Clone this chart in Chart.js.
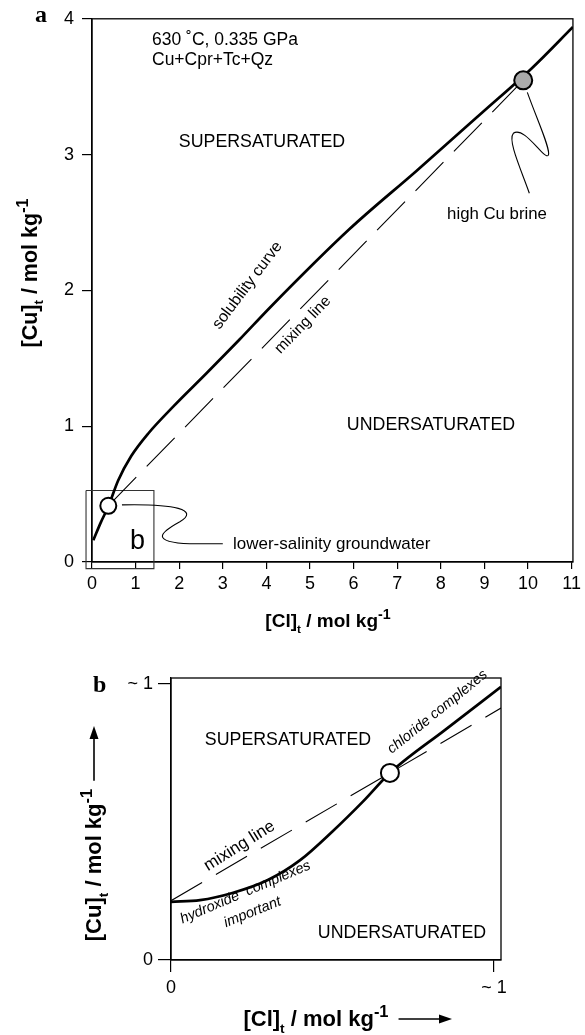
<!DOCTYPE html>
<html>
<head>
<meta charset="utf-8">
<script src="https://cdn.jsdelivr.net/npm/chart.js@4.4.1/dist/chart.umd.min.js"></script>
<style>
body { margin: 0; background: #fff; }
#wrapA { position: absolute; left: 0; top: 0; width: 585px; height: 660px; }
#wrapB { position: absolute; left: 0; top: 660px; width: 585px; height: 375px; }
</style>
</head>
<body>
<div id="wrapA"><canvas id="chartA" width="585" height="660"></canvas></div>
<div id="wrapB"><canvas id="chartB" width="585" height="375"></canvas></div>
<script>
// ---- panel a data ----
var xTicksA = [0, 1, 2, 3, 4, 5, 6, 7, 8, 9, 10, 11];
var yTicksA = [0, 1, 2, 3, 4];
var curveAX = [0.03, 0.2, 0.374, 0.6, 0.9, 1.3, 1.862, 2.626, 3.389, 4.1, 5.9, 7.44, 8.95, 10.1, 11.03];
var curveAY = [0.16, 0.29, 0.409, 0.6, 0.78, 0.95, 1.144, 1.39, 1.64, 1.88, 2.45, 2.88, 3.31, 3.64, 3.94];
var mixAX = [0.374, 9.89];
var mixAY = [0.414, 3.547];
var groundX = [0.374], groundY = [0.414];
var brineX = [9.89], brineY = [3.547];
var boxX = [-0.137, 1.42, 1.42, -0.137, -0.137];
var boxY = [0.527, 0.527, -0.049, -0.049, 0.527];

// ---- panel b data ----
var xTicksB = [0, 1], xLabelsB = ['0', '~ 1'];
var yTicksB = [0, 1], yLabelsB = ['0', '~ 1'];
var curveBX = [0, 0.09, 0.19, 0.30, 0.40, 0.50, 0.595, 0.678, 0.85, 1.022];
var curveBY = [0.211, 0.217, 0.243, 0.29, 0.362, 0.466, 0.575, 0.678, 0.835, 0.99];
var mixBX = [0, 1.022];
var mixBY = [0.215, 0.913];
var crossX = [0.678], crossY = [0.678];

var sans = '"Liberation Sans", Arial, sans-serif';
var serif = '"Liberation Serif", "Times New Roman", serif';

function pts(xs, ys) {
    return xs.map(function (x, i) { return { x: x, y: ys[i] }; });
}

function text(ctx, str, x, y, size, align, rot, style) {
    ctx.save();
    ctx.translate(x, y);
    if (rot) ctx.rotate(rot * Math.PI / 180);
    ctx.font = (style || '') + ' ' + size + 'px ' + sans;
    ctx.fillStyle = '#000';
    ctx.textAlign = align || 'left';
    ctx.textBaseline = 'alphabetic';
    ctx.fillText(str, 0, 0);
    ctx.restore();
}

// bold title with subscript t and superscript -1
function title(ctx, main1, main2, cx, cy, size, rot) {
    var parts = [[main1, 1, 0], ['t', 0.62, 0.3], [main2, 1, 0], ['-1', 0.75, -0.42]];
    ctx.save();
    ctx.translate(cx, cy);
    ctx.rotate(rot * Math.PI / 180);
    ctx.fillStyle = '#000';
    ctx.textBaseline = 'alphabetic';
    ctx.textAlign = 'left';
    var w = 0;
    parts.forEach(function (p) { ctx.font = 'bold ' + (size * p[1]) + 'px ' + sans; w += ctx.measureText(p[0]).width; });
    var x = -w / 2;
    parts.forEach(function (p) {
        ctx.font = 'bold ' + (size * p[1]) + 'px ' + sans;
        ctx.fillText(p[0], x, p[2] * size);
        x += ctx.measureText(p[0]).width;
    });
    ctx.restore();
    return w;
}

function arrow(ctx, x1, y1, x2, y2) {
    var a = Math.atan2(y2 - y1, x2 - x1);
    ctx.save();
    ctx.strokeStyle = '#000';
    ctx.fillStyle = '#000';
    ctx.lineWidth = 1.6;
    ctx.beginPath();
    ctx.moveTo(x1, y1);
    ctx.lineTo(x2 - 8 * Math.cos(a), y2 - 8 * Math.sin(a));
    ctx.stroke();
    ctx.beginPath();
    ctx.moveTo(x2, y2);
    ctx.lineTo(x2 - 13 * Math.cos(a) + 4.5 * Math.sin(a), y2 - 13 * Math.sin(a) - 4.5 * Math.cos(a));
    ctx.lineTo(x2 - 13 * Math.cos(a) - 4.5 * Math.sin(a), y2 - 13 * Math.sin(a) + 4.5 * Math.cos(a));
    ctx.closePath();
    ctx.fill();
    ctx.restore();
}

function leader(chart, path) {
    var sx = chart.scales.x, sy = chart.scales.y, ctx = chart.ctx;
    var P = function (p) { return [sx.getPixelForValue(p[0]), sy.getPixelForValue(p[1])]; };
    ctx.save();
    ctx.strokeStyle = '#000';
    ctx.lineWidth = 1.1;
    ctx.beginPath();
    var s = P(path[0]);
    ctx.moveTo(s[0], s[1]);
    for (var i = 1; i < path.length; i += 3) {
        var a = P(path[i]), b = P(path[i + 1]), c = P(path[i + 2]);
        ctx.bezierCurveTo(a[0], a[1], b[0], b[1], c[0], c[1]);
    }
    ctx.stroke();
    ctx.restore();
}

var frame = {
    id: 'frame',
    beforeDatasetsDraw: function (chart) {
        var ca = chart.chartArea, ctx = chart.ctx;
        ctx.save();
        ctx.strokeStyle = '#000';
        ctx.lineWidth = 1.3;
        ctx.strokeRect(ca.left, ca.top, ca.right - ca.left, ca.bottom - ca.top);
        ctx.restore();
    }
};

var notesA = {
    id: 'notesA',
    afterDraw: function (chart) {
        var ctx = chart.ctx;
        // leader to lower-salinity groundwater
        leader(chart, [[0.687, 0.421], [1.90, 0.429], [2.473, 0.385], [2.015, 0.296],
            [1.557, 0.215], [1.328, 0.149], [2.244, 0.134], [2.6, 0.134], [2.8, 0.134], [3.0, 0.134]]);
        // leader to high Cu brine
        leader(chart, [[9.984, 3.458], [10.213, 3.252], [10.534, 3.032], [10.465, 2.995],
            [10.373, 2.958], [9.915, 3.216], [9.663, 3.157], [9.526, 3.105], [9.847, 2.884], [10.03, 2.715]]);

        ctx.save();
        ctx.font = 'bold 24px ' + serif;
        ctx.fillStyle = '#000';
        ctx.fillText('a', 35, 22);
        ctx.restore();
        text(ctx, '630 \u02DAC, 0.335 GPa', 152, 45, 17.5);
        text(ctx, 'Cu+Cpr+Tc+Qz', 152, 65, 17.5);
        text(ctx, 'SUPERSATURATED', 262, 147, 17.8, 'center');
        text(ctx, 'UNDERSATURATED', 431, 430, 17.8, 'center');
        text(ctx, 'high Cu brine', 497, 219, 16.8, 'center');
        text(ctx, 'lower-salinity groundwater', 233, 549, 17);
        text(ctx, 'b', 130, 549, 27);
        text(ctx, 'solubility curve', 251, 288, 16, 'center', -53);
        text(ctx, 'mixing line', 306, 328, 15.5, 'center', -46);
        title(ctx, '[Cu]', ' / mol kg', 37, 273, 21.5, -90);
        title(ctx, '[Cl]', ' / mol kg', 328, 627, 19, 0);
    }
};

var notesB = {
    id: 'notesB',
    afterDraw: function (chart) {
        var ctx = chart.ctx;
        ctx.save();
        ctx.font = 'bold 24px ' + serif;
        ctx.fillStyle = '#000';
        ctx.fillText('b', 93, 32);
        ctx.restore();
        text(ctx, 'SUPERSATURATED', 288, 85, 17.8, 'center');
        text(ctx, 'UNDERSATURATED', 402, 278, 17.8, 'center');
        text(ctx, 'mixing line', 242, 190, 17, 'center', -32);
        text(ctx, 'hydroxide  complexes', 247, 236, 14.5, 'center', -23, 'italic');
        text(ctx, 'important', 254, 256, 14.5, 'center', -22, 'italic');
        text(ctx, 'chloride complexes', 440, 55, 14.5, 'center', -39, 'italic');
        var wy = title(ctx, '[Cu]', ' / mol kg', 101, 205, 22, -90);
        arrow(ctx, 94, 205 - wy / 2 - 8, 94, 66);
        var wx = title(ctx, '[Cl]', ' / mol kg', 316, 366, 22, 0);
        arrow(ctx, 316 + wx / 2 + 10, 359, 452, 359);
    }
};

function axis(min, max, ticks, labels, size, tickLen, pad, pos) {
    return {
        type: 'linear',
        position: pos,
        min: min,
        max: max,
        afterBuildTicks: function (s) { s.ticks = ticks.map(function (v) { return { value: v }; }); },
        afterFit: function (s) { if (pos === 'left') s.width = size; else s.height = size; },
        grid: { drawOnChartArea: false, drawTicks: true, tickLength: tickLen, color: '#000', lineWidth: 1.2 },
        border: { display: true, color: '#000', width: 1.3 },
        ticks: {
            autoSkip: false, maxRotation: 0, padding: pad, color: '#000',
            font: { family: sans, size: 18 },
            callback: function (v, i) { return labels ? labels[i] : String(v); }
        }
    };
}

function lineSet(xs, ys, width, dash, extra) {
    var d = {
        data: pts(xs, ys), showLine: true, borderColor: '#000', borderWidth: width,
        borderDash: dash || [], pointRadius: 0, fill: false
    };
    for (var k in extra) d[k] = extra[k];
    return d;
}

function dotSet(xs, ys, r, fill) {
    return {
        data: pts(xs, ys), showLine: false, pointRadius: r, pointHoverRadius: r,
        backgroundColor: fill, borderColor: '#000', pointBorderWidth: 2, borderWidth: 2
    };
}

var common = {
    responsive: false,
    animation: false,
    devicePixelRatio: 1,
    events: [],
    plugins: { legend: { display: false }, tooltip: { enabled: false } }
};

new Chart(document.getElementById('chartA'), {
    type: 'scatter',
    data: {
        datasets: [
            dotSet(groundX, groundY, 8, '#fff'),
            dotSet(brineX, brineY, 9, '#aaaaaa'),
            lineSet(curveAX, curveAY, 2.7, null, { cubicInterpolationMode: 'monotone' }),
            lineSet(mixAX, mixAY, 1.1, [40, 15]),
            lineSet(boxX, boxY, 1.1, null, { clip: false, borderColor: '#333' })
        ]
    },
    options: Object.assign({}, common, {
        layout: { padding: { top: 18, right: 11, bottom: 0, left: 0 } },
        scales: {
            x: axis(0, 11.03, xTicksA, null, 98, 7, 4, 'bottom'),
            y: axis(0, 4, yTicksA, null, 92, 10, 8, 'left')
        }
    }),
    plugins: [frame, notesA]
});

new Chart(document.getElementById('chartB'), {
    type: 'scatter',
    data: {
        datasets: [
            dotSet(crossX, crossY, 9, '#fff'),
            lineSet(curveBX, curveBY, 2.7, null, { cubicInterpolationMode: 'monotone' }),
            lineSet(mixBX, mixBY, 1.1, [36, 16])
        ]
    },
    options: Object.assign({}, common, {
        layout: { padding: { top: 18, right: 84, bottom: 0, left: 0 } },
        scales: {
            x: axis(0, 1.022, xTicksB, xLabelsB, 75, 12, 5, 'bottom'),
            y: axis(0, 1.022, yTicksB, yLabelsB, 171, 13, 5, 'left')
        }
    }),
    plugins: [frame, notesB]
});
</script>
</body>
</html>
